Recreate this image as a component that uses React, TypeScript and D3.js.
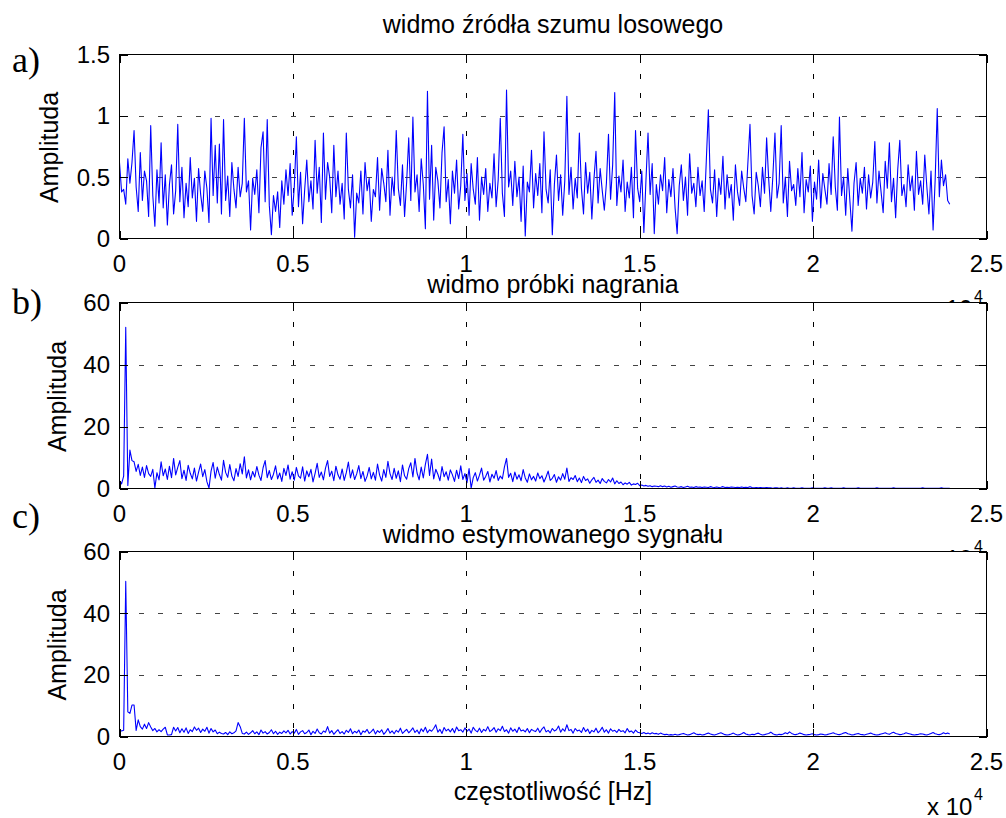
import React from 'react';
import * as d3 from 'd3';

// ---------- data ----------
const FREQ_STEP_HZ = 60;
const X_TICKS = [0, 5000, 10000, 15000, 20000, 25000];
const X_TICK_LABELS = ['0', '0.5', '1', '1.5', '2', '2.5'];
const NOISE_Y_TICKS = [0, 0.5, 1, 1.5];
const NOISE_Y_LABELS = ['0', '0.5', '1', '1.5'];
const SIGNAL_Y_TICKS = [0, 20, 40, 60];
const SIGNAL_Y_LABELS = ['0', '20', '40', '60'];
const TITLES = ['widmo źródła szumu losowego', 'widmo próbki nagrania', 'widmo estymowanego sygnału'];
const LETTERS = ['a)', 'b)', 'c)'];
const Y_LABEL = 'Amplituda';
const X_LABEL = 'częstotliwość [Hz]';

const noiseSpectrum = [
  0.62, 0.38, 0.40, 0.28, 0.65, 0.45, 0.62, 0.88, 0.42, 0.22, 0.70, 0.31, 0.55, 0.47, 0.18, 0.92, 0.35, 0.10, 0.56, 0.29,
  0.78, 0.25, 0.52, 0.11, 0.44, 0.60, 0.20, 0.39, 0.93, 0.30, 0.58, 0.17, 0.45, 0.26, 0.66, 0.33, 0.49, 0.14, 0.57, 0.36,
  0.22, 0.55, 0.41, 0.13, 0.98, 0.35, 0.76, 0.29, 0.77, 0.20, 0.97, 0.31, 0.51, 0.18, 0.62, 0.40, 0.25, 0.58, 0.34, 0.45,
  0.98, 0.38, 0.47, 0.07, 0.49, 0.36, 0.56, 0.21, 0.74, 0.87, 0.30, 0.97, 0.27, 0.03, 0.35, 0.22, 0.38, 0.09, 0.47, 0.28,
  0.56, 0.35, 0.61, 0.19, 0.42, 0.83, 0.26, 0.54, 0.12, 0.40, 0.64, 0.30, 0.47, 0.24, 0.80, 0.37, 0.58, 0.13, 0.86, 0.32,
  0.62, 0.50, 0.21, 0.76, 0.34, 0.55, 0.28, 0.45, 0.16, 0.86, 0.40, 0.25, 0.52, 0.01, 0.37, 0.29, 0.55, 0.20, 0.62, 0.39,
  0.49, 0.14, 0.40, 0.34, 0.66, 0.23, 0.57, 0.45, 0.30, 0.72, 0.19, 0.50, 0.35, 0.88, 0.41, 0.27, 0.60, 0.18, 0.46, 0.82,
  0.31, 0.99, 0.38, 0.52, 0.22, 0.65, 0.44, 0.08, 1.20, 0.32, 0.76, 0.15, 0.58, 0.47, 0.25, 0.70, 0.91, 0.30, 0.48, 0.12,
  0.55, 0.37, 0.64, 0.24, 0.43, 0.85, 0.31, 0.53, 0.19, 0.61, 0.40, 0.28, 0.66, 0.15, 0.50, 0.36, 0.57, 0.22, 0.45, 0.33,
  0.69, 0.26, 0.48, 0.98, 0.37, 0.18, 1.21, 0.42, 0.55, 0.27, 0.63, 0.34, 0.50, 0.14, 0.59, 0.02, 0.46, 0.38, 0.72, 0.25,
  0.53, 0.35, 0.61, 0.21, 0.87, 0.40, 0.29, 0.56, 0.03, 0.44, 0.68, 0.31, 0.52, 0.19, 0.47, 1.16, 0.36, 0.58, 0.24, 0.49,
  0.33, 0.86, 0.41, 0.20, 0.62, 0.37, 0.54, 0.16, 0.48, 0.71, 0.29, 0.57, 0.39, 0.23, 0.45, 0.85, 0.32, 0.60, 1.19, 0.27,
  0.51, 0.38, 0.64, 0.22, 0.46, 0.33, 0.58, 0.17, 0.88, 0.41, 0.30, 0.55, 0.05, 0.47, 0.86, 0.36, 0.61, 0.04, 0.44, 0.28,
  0.52, 0.39, 0.66, 0.21, 0.48, 0.34, 0.57, 0.25, 0.04, 0.43, 0.60, 0.31, 0.50, 0.19, 0.69, 0.37, 0.45, 0.26, 0.58, 0.35,
  0.47, 0.22, 0.63, 1.05, 0.40, 0.29, 0.56, 0.18, 0.49, 0.36, 0.67, 0.24, 0.52, 0.33, 0.44, 0.15, 0.60, 0.38, 0.27, 0.55,
  0.41, 0.30, 0.62, 0.93, 0.35, 0.20, 0.54, 0.43, 0.26, 0.58, 0.37, 0.82, 0.48, 0.22, 0.51, 0.86, 0.33, 0.45, 0.92, 0.29,
  0.50, 0.18, 0.63, 0.39, 0.44, 0.27, 0.57, 0.34, 0.70, 0.21, 0.48, 0.38, 0.59, 0.14, 0.46, 0.32, 0.64, 0.25, 0.53, 0.40,
  0.28, 0.61, 0.36, 0.83, 0.42, 0.23, 0.99, 0.35, 0.50, 0.19, 0.57, 0.31, 0.06, 0.45, 0.62, 0.27, 0.49, 0.37, 0.58, 0.24,
  0.52, 0.33, 0.46, 0.79, 0.29, 0.55, 0.38, 0.21, 0.63, 0.41, 0.78, 0.30, 0.49, 0.17, 0.56, 0.80, 0.35, 0.44, 0.26, 0.60,
  0.39, 0.51, 0.23, 0.71, 0.36, 0.47, 0.28, 0.68, 0.42, 0.20, 0.55, 0.07, 0.48, 1.06, 0.34, 0.64, 0.43, 0.52, 0.31, 0.28,
];

const recordingSpectrum = [
  2.5, 1.5, 4.0, 52, 1.0, 12.4, 9.0, 8.6, 5.5, 7.8, 4.2, 6.9, 3.6, 7.4, 4.8, 3.9, 6.2, 0.2, 5.1, 2.8,
  8.6, 4.1, 6.3, 2.9, 7.2, 3.5, 9.7, 4.4, 6.8, 9.0, 3.2, 5.9, 2.6, 7.5, 4.9, 3.1, 6.6, 2.4, 5.3, 7.9,
  3.8, 6.1, 2.2, 0.1, 5.6, 8.4, 3.3, 6.9, 4.5, 2.7, 9.1, 5.2, 3.6, 7.7, 4.0, 2.5, 6.4, 3.9, 8.0, 4.7,
  10.2, 3.4, 6.0, 2.8, 5.5, 3.7, 7.1, 4.3, 2.6, 6.7, 9.0, 3.5, 5.8, 2.9, 4.6, 7.3, 3.1, 5.0, 2.3, 6.5,
  4.2, 7.6, 3.0, 5.4, 2.7, 6.8, 4.1, 3.3, 7.0, 2.4, 5.7, 3.8, 6.2, 2.1, 4.9, 8.1, 3.6, 5.3, 2.8, 6.6,
  9.0, 3.9, 5.6, 2.5, 7.2, 4.4, 3.0, 6.3, 2.6, 5.1, 8.5, 3.4, 6.0, 2.9, 4.7, 7.4, 3.2, 5.5, 2.3, 4.0,
  6.8, 3.1, 5.2, 2.7, 7.9, 4.3, 2.4, 6.1, 3.6, 8.8, 4.8, 2.9, 6.5, 3.3, 5.7, 2.2, 7.6, 4.1, 3.0, 6.4,
  8.3, 3.7, 9.7, 5.0, 2.8, 6.9, 3.4, 7.8, 11.0, 4.2, 9.5, 3.1, 6.2, 4.6, 2.5, 7.1, 3.8, 5.4, 2.7, 6.0,
  4.4, 2.3, 5.9, 3.2, 7.3, 2.9, 4.8, 1.9, 6.4, 0.1, 3.5, 5.1, 2.4, 4.3, 6.6, 2.7, 3.9, 5.5, 2.1, 4.6,
  3.3, 5.8, 2.6, 4.0, 3.1, 7.0, 9.7, 3.6, 4.9, 2.2, 5.3, 3.0, 4.4, 2.5, 6.1, 3.4, 2.0, 4.7, 2.8, 3.9,
  2.4, 5.0, 3.2, 4.1, 2.1, 3.7, 5.6, 2.6, 3.3, 4.5, 2.0, 3.8, 2.7, 4.8, 3.0, 6.6, 2.3, 3.5, 2.9, 4.2,
  2.2, 3.4, 1.9, 3.9, 2.6, 3.1, 1.7, 2.8, 3.6, 2.0, 2.7, 1.6, 3.2, 2.3, 1.8, 2.9, 2.1, 3.4, 1.5, 2.5,
  1.6, 2.1, 1.2, 1.8, 1.4, 2.0, 1.1, 1.5, 1.3, 1.7, 0.9, 1.1, 0.8, 1.0, 0.7, 0.9, 0.6, 0.8, 0.7, 0.6,
  0.9, 0.6, 0.8, 0.5, 0.7, 0.4, 0.6, 0.8, 0.5, 0.4, 0.6, 0.3, 0.5, 0.7, 0.4, 0.5, 0.3, 0.6, 0.4, 0.5,
  0.3, 0.5, 0.4, 0.3, 0.6, 0.4, 0.3, 0.5, 0.3, 0.4, 0.6, 0.3, 0.4, 0.3, 0.5, 0.4, 0.3, 0.4, 0.3, 0.5,
  0.3, 0.4, 0.3, 0.6, 0.3, 0.2, 0.3, 0.2, 0.3, 0.2, 0.2, 0.3, 0.2, 0.2, 0.1, 0.2, 0.2, 0.1, 0.2, 0.1,
  0.1, 0.2, 0.1, 0.1, 0.2, 0.1, 0.1, 0.1, 0.2, 0.1, 0.1, 0.1, 0.1, 0.2, 0.1, 0.1, 0.1, 0.1, 0.1, 0.2,
  0.1, 0.1, 0.2, 0.1, 0.1, 0.1, 0.1, 0.1, 0.2, 0.1, 0.1, 0.1, 0.1, 0.1, 0.1, 0.2, 0.1, 0.1, 0.1, 0.1,
  0.1, 0.1, 0.1, 0.1, 0.2, 0.1, 0.1, 0.1, 0.1, 0.1, 0.1, 0.1, 0.2, 0.1, 0.1, 0.1, 0.1, 0.1, 0.1, 0.1,
  0.1, 0.1, 0.1, 0.1, 0.1, 0.1, 0.2, 0.1, 0.1, 0.1, 0.1, 0.1, 0.1, 0.1, 0.1, 0.2, 0.1, 0.1, 0.1, 0.1,
];

const estimatedSpectrum = [
  2.1, 1.8, 2.0, 50.3, 8.0, 7.5, 10.2, 10.2, 2.0, 5.4, 3.2, 2.4, 4.0, 2.6, 4.5, 3.1, 1.9, 2.6, 1.5, 2.2,
  1.6, 2.4, 3.0, 0.5, 0.5, 0.6, 3.0, 1.8, 2.9, 1.2, 2.5, 1.4, 2.8, 1.0, 2.2, 1.6, 3.1, 2.0, 2.7, 1.3,
  2.4, 1.7, 3.0, 1.1, 2.6, 1.5, 2.1, 0.9, 1.4, 1.0, 0.8, 1.3, 0.6, 1.5, 0.9, 1.2, 1.8, 4.5, 3.2, 1.0,
  0.8, 1.4, 0.7, 1.2, 1.9, 0.9, 1.5, 0.6, 2.1, 1.1, 1.6, 0.8, 1.3, 2.2, 0.9, 1.7, 0.7, 1.4, 1.0, 1.8,
  1.2, 2.0, 0.8, 1.6, 1.1, 2.3, 0.7, 1.5, 1.9, 0.9, 1.3, 2.1, 0.6, 1.7, 1.0, 2.4, 1.2, 0.8, 1.8, 1.4,
  3.2, 1.1, 1.9, 0.7, 1.5, 2.2, 1.0, 1.6, 0.8, 2.0, 1.3, 2.5, 0.9, 1.7, 1.2, 2.1, 0.6, 1.8, 1.4, 2.3,
  1.0, 1.6, 2.4, 0.8, 1.9, 1.3, 2.2, 0.7, 1.5, 2.6, 1.1, 1.8, 0.9, 2.0, 1.4, 2.7, 1.0, 1.7, 2.3, 1.2,
  1.9, 2.8, 1.3, 2.1, 0.9, 2.5, 1.6, 3.0, 1.2, 2.2, 1.7, 2.6, 3.8, 1.4, 2.3, 1.0, 2.9, 1.8, 2.4, 1.5,
  2.6, 1.2, 3.1, 1.9, 2.2, 1.4, 2.8, 1.7, 2.4, 1.1, 3.0, 2.0, 1.5, 2.7, 1.3, 2.3, 1.8, 3.2, 1.6, 2.1,
  2.9, 1.4, 2.5, 1.9, 3.3, 1.6, 2.2, 1.1, 2.8, 1.7, 2.4, 1.3, 3.0, 1.8, 2.1, 1.5, 2.6, 1.2, 2.3, 1.9,
  1.6, 2.7, 1.3, 2.4, 3.1, 1.5, 2.0, 1.2, 2.6, 1.8, 2.2, 3.4, 1.4, 2.5, 1.7, 3.8, 1.9, 2.3, 1.1, 2.6,
  1.8, 2.1, 1.3, 2.9, 1.6, 2.4, 1.0, 2.0, 1.5, 2.7, 1.2, 1.9, 3.0, 1.4, 2.2, 1.1, 2.5, 1.7, 2.0, 1.3,
  2.3, 1.6, 1.9, 1.2, 2.6, 1.5, 1.8, 1.1, 2.1, 1.4, 1.2, 1.0, 1.3, 0.9, 1.1, 0.8, 1.2, 0.9, 1.0, 0.7,
  1.1, 0.8, 0.6, 0.7, 0.5, 0.6, 0.5, 0.7, 0.5, 0.6, 0.8, 1.0, 0.7, 0.5, 0.6, 0.9, 1.2, 0.8, 0.6, 0.7,
  0.5, 0.6, 0.9, 1.1, 0.8, 0.6, 0.5, 0.7, 1.0, 1.2, 0.9, 0.6, 0.5, 0.6, 0.8, 1.1, 0.7, 0.5, 0.6, 0.9,
  1.3, 0.8, 0.6, 0.5, 0.7, 0.6, 0.9, 1.1, 0.7, 0.5, 0.6, 0.8, 1.0, 1.4, 0.9, 0.6, 0.5, 0.7, 0.6, 0.8,
  1.2, 0.9, 1.5, 1.0, 0.7, 0.6, 0.8, 1.1, 0.9, 0.6, 0.5, 0.6, 0.7, 0.9, 0.6, 0.5, 0.6, 0.8, 0.7, 0.5,
  0.6, 0.8, 1.0, 1.2, 0.9, 0.7, 0.6, 0.8, 1.1, 1.3, 0.9, 0.7, 0.5, 0.6, 0.8, 1.0, 0.7, 0.6, 0.5, 0.7,
  0.9, 1.1, 0.8, 0.6, 0.5, 0.6, 0.8, 1.0, 1.2, 0.9, 0.7, 1.1, 1.4, 1.0, 0.8, 0.6, 0.7, 0.9, 1.2, 1.0,
  0.8, 0.6, 0.5, 0.6, 0.7, 0.9, 0.8, 0.6, 0.5, 0.7, 1.0, 1.3, 0.9, 0.7, 0.6, 0.8, 1.2, 0.9, 1.1, 0.8,
];

// ---------- layout ----------
const W = 1006;
const H = 818;
const X_LEFT = 119.5;
const X_RIGHT = 986.5;
const SANS = "'Liberation Sans', Arial, Helvetica, sans-serif";
const SERIF = "'Liberation Serif', 'Times New Roman', serif";
const TICK_LEN = 8;

const PANELS = [
  { values: noiseSpectrum, yTicks: NOISE_Y_TICKS, yLabels: NOISE_Y_LABELS, top: 54.5, bottom: 238.5, titleBaseline: 33, ylabelX: 58, letterBaseline: 72 },
  { values: recordingSpectrum, yTicks: SIGNAL_Y_TICKS, yLabels: SIGNAL_Y_LABELS, top: 302.5, bottom: 488.5, titleBaseline: 293, ylabelX: 66, letterBaseline: 314 },
  { values: estimatedSpectrum, yTicks: SIGNAL_Y_TICKS, yLabels: SIGNAL_Y_LABELS, top: 551.5, bottom: 736.5, titleBaseline: 543, ylabelX: 66, letterBaseline: 528 },
];

const x = d3.scaleLinear().domain([0, 25000]).range([X_LEFT, X_RIGHT]);

function Panel({ p, idx }: { p: (typeof PANELS)[number]; idx: number }) {
  const yMax = p.yTicks[p.yTicks.length - 1];
  const y = d3.scaleLinear().domain([0, yMax]).range([p.bottom, p.top]);
  const line = d3
    .line<number>()
    .x((_, i) => x(i * FREQ_STEP_HZ))
    .y((v) => y(v));
  const clipId = `clip-${idx}`;
  const cx = (X_LEFT + X_RIGHT) / 2;
  const cy = (p.top + p.bottom) / 2 + 1;
  return (
    <g>
      <defs>
        <clipPath id={clipId}>
          <rect x={X_LEFT} y={p.top} width={X_RIGHT - X_LEFT} height={p.bottom - p.top} />
        </clipPath>
      </defs>
      <rect x={X_LEFT} y={p.top} width={X_RIGHT - X_LEFT} height={p.bottom - p.top} fill="#fff" />
      {/* grid */}
      {X_TICKS.slice(1, -1).map((t) => (
        <line key={`gx${t}`} x1={Math.round(x(t)) + 0.5} x2={Math.round(x(t)) + 0.5} y1={p.top} y2={p.bottom}
          stroke="#000" strokeWidth={1} strokeDasharray="5,14" shapeRendering="crispEdges" />
      ))}
      {p.yTicks.slice(1, -1).map((t) => (
        <line key={`gy${t}`} x1={X_LEFT} x2={X_RIGHT} y1={Math.round(y(t)) + 0.5} y2={Math.round(y(t)) + 0.5}
          stroke="#444" strokeWidth={1} strokeDasharray="5,14" shapeRendering="crispEdges" />
      ))}
      {/* data */}
      <path d={line(p.values) || ''} fill="none" stroke="#0000ff" strokeWidth={1.1} clipPath={`url(#${clipId})`} strokeLinejoin="round" />
      {/* box */}
      <rect x={X_LEFT} y={p.top} width={X_RIGHT - X_LEFT} height={p.bottom - p.top} fill="none" stroke="#000" strokeWidth={1} shapeRendering="crispEdges" />
      {/* ticks */}
      {X_TICKS.map((t) => {
        const xx = Math.round(x(t)) + 0.5;
        return (
          <g key={`tx${t}`}>
            <line x1={xx} x2={xx} y1={p.bottom} y2={p.bottom - TICK_LEN} stroke="#000" shapeRendering="crispEdges" />
            <line x1={xx} x2={xx} y1={p.top} y2={p.top + TICK_LEN} stroke="#000" shapeRendering="crispEdges" />
          </g>
        );
      })}
      {p.yTicks.map((t) => {
        const yy = Math.round(y(t)) + 0.5;
        return (
          <g key={`ty${t}`}>
            <line x1={X_LEFT} x2={X_LEFT + TICK_LEN} y1={yy} y2={yy} stroke="#000" shapeRendering="crispEdges" />
            <line x1={X_RIGHT} x2={X_RIGHT - TICK_LEN} y1={yy} y2={yy} stroke="#000" shapeRendering="crispEdges" />
          </g>
        );
      })}
      {/* tick labels */}
      {X_TICKS.map((t, i) => (
        <text key={`lx${t}`} x={x(t)} y={p.bottom + 33} textAnchor="middle" fontFamily={SANS} fontSize={24} fill="#000">
          {X_TICK_LABELS[i]}
        </text>
      ))}
      {p.yTicks.map((t, i) => (
        <text key={`ly${t}`} x={110} y={y(t) + 8.6} textAnchor="end" fontFamily={SANS} fontSize={24} fill="#000">
          {p.yLabels[i]}
        </text>
      ))}
      {/* title */}
      <text x={cx} y={p.titleBaseline} textAnchor="middle" fontFamily={SANS} fontSize={25} fill="#000">
        {TITLES[idx]}
      </text>
      {/* y label */}
      <text transform={`translate(${p.ylabelX},${cy}) rotate(-90)`} textAnchor="middle" fontFamily={SANS} fontSize={25} fill="#000">
        {Y_LABEL}
      </text>
      {/* x 10^4 exponent */}
      <text x={927} y={p.bottom + 78} fontFamily={SANS} fontSize={24} fill="#000">x 10</text>
      <text x={974} y={p.bottom + 63} fontFamily={SANS} fontSize={16} fill="#000">4</text>
    </g>
  );
}

export default function App() {
  const last = PANELS[PANELS.length - 1];
  return (
    <svg width={W} height={H} viewBox={`0 0 ${W} ${H}`} style={{ position: 'absolute', left: 0, top: 0, background: '#fff' }}>
      <rect x={0} y={0} width={W} height={H} fill="#fff" />
      {PANELS.map((p, i) => (
        <Panel key={i} p={p} idx={i} />
      ))}
      <text x={(X_LEFT + X_RIGHT) / 2} y={last.bottom + 63} textAnchor="middle" fontFamily={SANS} fontSize={25} fill="#000">
        {X_LABEL}
      </text>
      {PANELS.map((p, i) => (
        <text key={`let${i}`} x={12} y={p.letterBaseline} fontFamily={SERIF} fontSize={36} fill="#000">
          {LETTERS[i]}
        </text>
      ))}
    </svg>
  );
}
